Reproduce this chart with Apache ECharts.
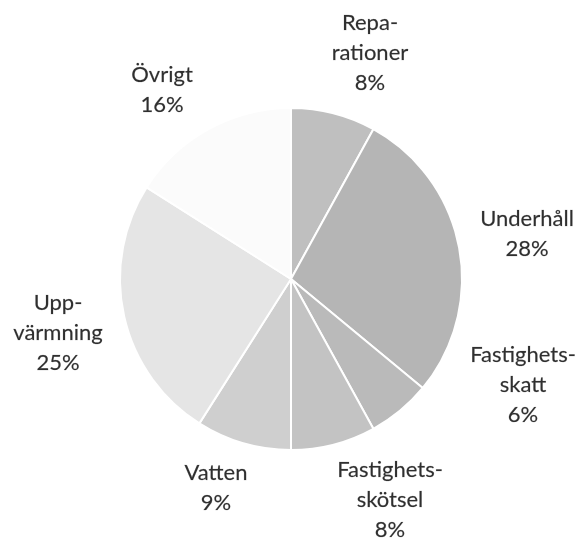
<!DOCTYPE html>
<html><head><meta charset="utf-8">
<script src="https://cdn.jsdelivr.net/npm/echarts@6/dist/echarts.min.js"></script>
<style>html,body{margin:0;padding:0;background:#fff}#c{width:580px;height:543px}</style>
</head><body><div id="c"></div>
<script>
var categories = ['Repa-\nrationer', 'Underhåll', 'Fastighets-\nskatt', 'Fastighets-\nskötsel', 'Vatten', 'Upp-\nvärmning', 'Övrigt'];
var values = [8, 28, 6, 8, 9, 25, 16];
var colors = ['#bfbfbf', '#b5b5b5', '#bababa', '#c3c3c3', '#cfcfcf', '#e5e5e5', '#fbfbfb'];
var labelPos = [[370, 53], [527, 234], [523, 385], [390, 500], [216, 488], [58, 333], [162, 90]];

var chart = echarts.init(document.getElementById('c'), null, {renderer: 'canvas'});
chart.setOption({
  animation: false,
  series: [{
    type: 'pie',
    center: [291, 279],
    radius: 171,
    startAngle: 90,
    clockwise: true,
    data: categories.map(function (c, i) {
      return {name: c, value: values[i], itemStyle: {color: colors[i]}};
    }),
    itemStyle: {borderColor: '#ffffff', borderWidth: 2},
    label: {
      show: true,
      position: 'outside',
      formatter: function (p) { return p.name + '\n' + p.value + '%'; },
      fontFamily: 'Lato',
      fontSize: 22,
      lineHeight: 30,
      color: '#2f2f2f',
      align: 'center',
      overflow: 'none',
      width: 200,
      textBorderColor: 'rgba(60,60,60,0.35)',
      textBorderWidth: 0.5
    },
    labelLine: {show: false},
    labelLayout: function (p) {
      var pos = labelPos[p.dataIndex];
      return {x: pos[0], y: pos[1], align: 'center', verticalAlign: 'middle'};
    }
  }]
});
</script></body></html>
